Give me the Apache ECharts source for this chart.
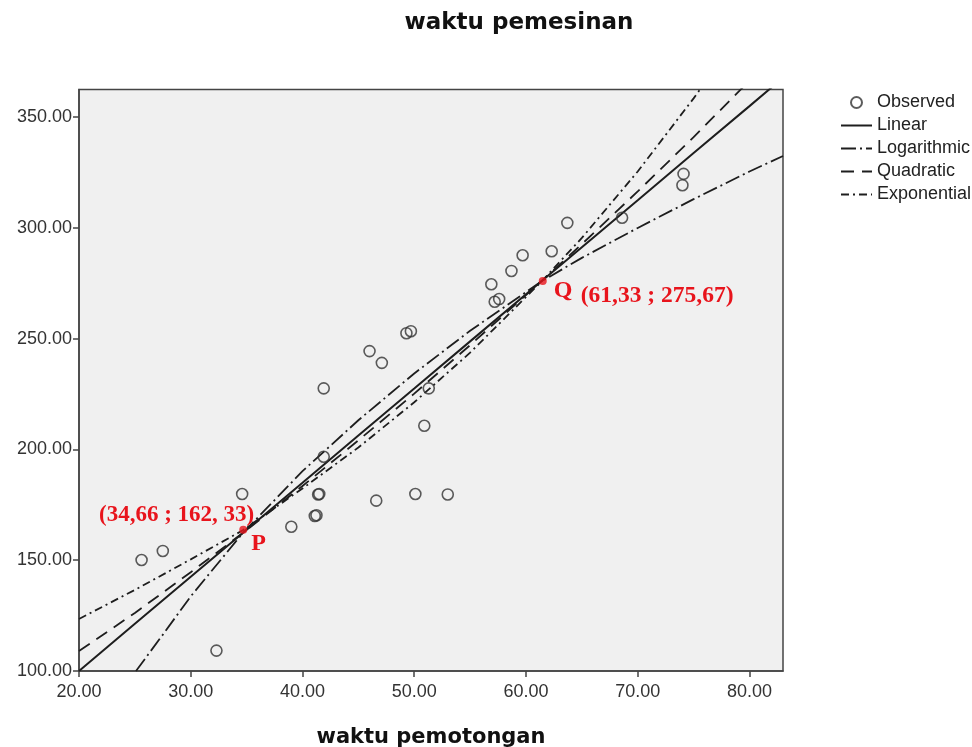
<!DOCTYPE html>
<html><head><meta charset="utf-8">
<script src="https://cdn.jsdelivr.net/npm/echarts@6/dist/echarts.min.js"></script>
<style>html,body{margin:0;padding:0;background:#fff}#c{width:972px;height:747px}</style>
</head><body><div id="c"></div>
<script>
// Observed points
const obsX = [25.6, 27.5, 32.3, 34.6, 39.0, 41.1, 41.25, 41.4, 41.5, 41.9, 41.9, 46.6, 50.1, 53.0, 50.9, 51.3, 46.0, 47.1, 49.3, 49.7, 56.9, 57.2, 57.6, 58.7, 59.7, 62.3, 63.7, 68.6, 74.1, 74.0];
const obsY = [150.1, 154.2, 109.2, 179.9, 165.1, 170.0, 170.3, 179.7, 179.9, 196.7, 227.6, 176.9, 179.9, 179.7, 210.7, 227.6, 244.4, 239.1, 252.5, 253.4, 274.6, 266.7, 267.9, 280.6, 287.7, 289.5, 302.3, 304.6, 324.4, 319.3];
// Fitted curves
const linX = [20, 25, 30, 34.66, 40, 45, 50, 55, 61.33, 65, 70, 75, 80, 83];
const linY = [100, 121.3, 142.5, 162.3, 185, 206.3, 227.5, 248.8, 275.7, 291.3, 312.5, 333.8, 355, 367.8];
const logX = [25.1, 27.5, 30, 34.66, 40, 45, 50, 55, 61.33, 65, 70, 75, 80, 83];
const logY = [100, 116.4, 133.7, 162.3, 190.2, 213.2, 234.3, 253.6, 275.7, 286.5, 300.0, 313.0, 325.5, 332.5];
const quadX = [20, 25, 30, 34.66, 40, 45, 50, 55, 61.33, 65, 70, 75, 80];
const quadY = [109, 126.2, 144.6, 162.3, 183.5, 204.1, 225.2, 247.1, 275.7, 292.7, 316.5, 341.0, 366.5];
const expX = [20, 25, 30, 34.66, 40, 45, 50, 55, 61.33, 65, 70, 75, 76];
const expY = [123.5, 136.6, 150.4, 163.5, 182.4, 200.9, 221.3, 243.7, 275.5, 295.5, 325.5, 358.5, 365.5];
// Annotated points
const pointP = [34.7, 163.8];
const pointQ = [61.5, 276.0];
const labelP = '(34,66 ; 162, 33)';
const labelQ = '(61,33 ; 275,67)';
// Axis ticks
const xTicks = [20, 30, 40, 50, 60, 70, 80];
const yTicks = [100, 150, 200, 250, 300, 350];

function pairs(xs, ys) { return xs.map((x, i) => [x, ys[i]]); }
const chart = echarts.init(document.getElementById('c'));
const ink = '#1e1e1e';
const lineBase = { type: 'line', symbol: 'none', showSymbol: false, smooth: false, clip: true, silent: true, z: 2 };
const axisText = { fontFamily: 'Liberation Sans', fontSize: 18, color: '#333' };
const hideSym = { opacity: 0 };

chart.setOption({
  animation: false,
  backgroundColor: '#fff',
  title: {
    text: 'waktu pemesinan', left: 514, top: 7, textAlign: 'center',
    textStyle: { fontFamily: 'DejaVu Sans', fontWeight: 'bold', fontSize: 23, color: '#111' }
  },
  legend: {
    orient: 'vertical', left: 835, top: 86, itemWidth: 31, itemHeight: 11, itemGap: 0,
    selectedMode: false,
    textStyle: { fontFamily: 'Liberation Sans', fontSize: 18, color: '#222', lineHeight: 23 },
    data: [
      { name: 'Observed' },
      { name: 'Linear', itemStyle: hideSym },
      { name: 'Logarithmic', itemStyle: hideSym },
      { name: 'Quadratic', itemStyle: hideSym },
      { name: 'Exponential', itemStyle: hideSym }
    ]
  },
  grid: {
    left: 79, right: 189, top: 89.5, bottom: 76, show: true, containLabel: false, outerBoundsMode: 'none',
    backgroundColor: '#f0f0f0', borderColor: '#444', borderWidth: 1.5
  },
  xAxis: {
    type: 'value', min: 20, max: 83, interval: 10,
    name: 'waktu pemotongan', nameLocation: 'middle', nameGap: 56,
    nameTextStyle: { fontFamily: 'DejaVu Sans', fontWeight: 'bold', fontSize: 21, color: '#111' },
    axisLine: { show: true, onZero: false, lineStyle: { color: '#444', width: 1.5 } },
    axisTick: { show: true, length: 6, customValues: xTicks, lineStyle: { color: '#444', width: 1.5 } },
    axisLabel: Object.assign({ margin: 12, customValues: xTicks, formatter: v => v.toFixed(2) }, axisText),
    splitLine: { show: false }
  },
  yAxis: {
    type: 'value', min: 100, max: 362.5, interval: 50,
    axisLine: { show: true, onZero: false, lineStyle: { color: '#444', width: 1.5 } },
    axisTick: { show: true, length: 6, customValues: yTicks, lineStyle: { color: '#444', width: 1.5 } },
    axisLabel: Object.assign({ margin: 7, customValues: yTicks, formatter: v => v.toFixed(2) }, axisText),
    splitLine: { show: false }
  },
  series: [
    Object.assign({}, lineBase, { name: 'Linear', data: pairs(linX, linY), lineStyle: { color: ink, width: 2, type: 'solid' }, itemStyle: { color: ink } }),
    Object.assign({}, lineBase, { name: 'Logarithmic', data: pairs(logX, logY), lineStyle: { color: ink, width: 1.8, type: [15, 4, 2, 4] }, itemStyle: { color: ink } }),
    Object.assign({}, lineBase, { name: 'Quadratic', data: pairs(quadX, quadY), lineStyle: { color: ink, width: 1.8, type: [13, 8] }, itemStyle: { color: ink } }),
    Object.assign({}, lineBase, { name: 'Exponential', data: pairs(expX, expY), lineStyle: { color: ink, width: 1.8, type: [8, 4, 2, 4] }, itemStyle: { color: ink } }),
    {
      name: 'Observed', type: 'scatter', symbol: 'circle', symbolSize: 11, z: 3,
      itemStyle: { color: 'rgba(0,0,0,0)', borderColor: '#333', borderWidth: 1.6 },
      data: pairs(obsX, obsY)
    },
    {
      name: 'PQ', type: 'scatter', symbol: 'circle', symbolSize: 8, z: 4,
      itemStyle: { color: '#e8141c' },
      data: [pointP, pointQ]
    }
  ]
});

const pp = chart.convertToPixel({ gridIndex: 0 }, pointP);
const pq = chart.convertToPixel({ gridIndex: 0 }, pointQ);
const red = '#e8141c';
function txt(text, x, y, align, size) {
  return { type: 'text', x: x, y: y, z: 10, silent: true,
    style: { text: text, font: 'bold ' + size + 'px "Liberation Serif"', fill: red,
      align: align, textAlign: align, verticalAlign: 'middle', textVerticalAlign: 'middle' } };
}
chart.setOption({
  graphic: [
    txt(labelP, pp[0] + 11, pp[1] - 15, 'right', 23),
    txt('P', pp[0] + 8, pp[1] + 14, 'left', 24),
    txt('Q', pq[0] + 11, pq[1] + 10, 'left', 24),
    txt(labelQ, pq[0] + 38, pq[1] + 15, 'left', 23.5)
  ]
});
</script></body></html>
